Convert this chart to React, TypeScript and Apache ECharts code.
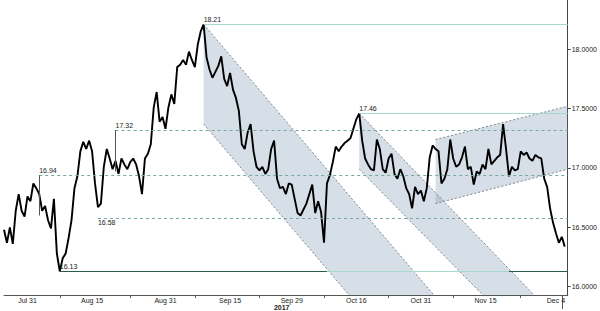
import React, { useEffect, useRef } from 'react';
import * as echarts from 'echarts';

// ---- data ----
const MONTHS = ['Jan','Feb','Mar','Apr','May','Jun','Jul','Aug','Sep','Oct','Nov','Dec'];
const SLOT_COUNT = 193; // two half-day slots per weekday, Jul 25 2017 onwards

function buildSlots(): string[] {
  const out: string[] = [];
  const d = new Date(Date.UTC(2017, 6, 25));
  while (out.length < SLOT_COUNT) {
    const wd = d.getUTCDay();
    if (wd !== 0 && wd !== 6) {
      const s = `${MONTHS[d.getUTCMonth()]} ${d.getUTCDate()}`;
      out.push(s + ' AM');
      if (out.length < SLOT_COUNT) out.push(s + ' PM');
    }
    d.setUTCDate(d.getUTCDate() + 1);
  }
  return out;
}
const categories = buildSlots();

const xLabels = ['Jul 31', 'Aug 15', 'Aug 31', 'Sep 15', 'Sep 29', 'Oct 16', 'Oct 31', 'Nov 15', 'Dec 4'];
const xLabelSlots = [8, 30, 55, 77, 98, 120, 142, 164, 188];
const xTickSlots = [19, 43, 65, 87, 109, 131, 153, 176];
const yearLabel = '2017';
const yTicks = [16, 16.5, 17, 17.5, 18];

const price = [
  16.48, 16.37, 16.50, 16.36, 16.64, 16.78, 16.64, 16.59, 16.76, 16.72,
  16.87, 16.83, 16.78, 16.64, 16.68, 16.56, 16.49, 16.74, 16.28, 16.13,
  16.24, 16.28, 16.41, 16.56, 16.83, 16.93, 17.14, 17.22, 17.16, 17.23,
  17.14, 16.87, 16.67, 16.70, 17.01, 17.16, 17.08, 16.99, 17.06, 16.95,
  17.08, 17.03, 16.99, 17.05, 17.08, 17.03, 16.93, 16.78, 17.08, 17.12,
  17.20, 17.51, 17.64, 17.39, 17.43, 17.33, 17.51, 17.62, 17.54, 17.85,
  17.87, 17.91, 17.87, 17.98, 17.91, 17.85, 18.04, 18.15, 18.21, 17.93,
  17.83, 17.76, 17.81, 17.86, 17.94, 17.75, 17.69, 17.80, 17.66, 17.59,
  17.48, 17.20, 17.16, 17.30, 17.37, 17.14, 17.01, 16.98, 17.01, 16.95,
  16.99, 17.16, 17.23, 16.91, 16.83, 16.84, 16.78, 16.87, 16.86, 16.74,
  16.62, 16.60, 16.65, 16.70, 16.78, 16.86, 16.62, 16.72, 16.63, 16.37,
  16.87, 16.94, 17.05, 17.18, 17.14, 17.18, 17.21, 17.23, 17.25, 17.33,
  17.41, 17.46, 17.23, 17.08, 17.03, 16.99, 16.98, 17.24, 17.16, 16.99,
  16.96, 17.08, 17.12, 16.95, 16.91, 16.99, 16.93, 16.83, 16.78, 16.66,
  16.84, 16.78, 16.81, 16.72, 16.83, 17.09, 17.19, 17.16, 17.14, 16.87,
  16.91, 16.99, 17.24, 17.08, 17.01, 17.03, 17.09, 17.18, 16.99, 17.01,
  16.86, 16.97, 16.95, 17.03, 16.99, 17.16, 17.03, 17.06, 17.09, 17.11,
  17.37, 17.16, 16.93, 17.01, 16.98, 16.99, 17.14, 17.11, 17.13, 17.08,
  17.06, 17.11, 17.09, 17.08, 16.91, 16.84, 16.66, 16.54, 16.45, 16.37,
  16.42, 16.3375,
];
const lastPrice = 16.3375;

// horizontal levels: value, start slot, style kind, label side
const levelValues = [18.21, 17.46, 17.32, 16.94, 16.58, 16.13];
const levelStartSlots = [68, 121, 38, 12, 32, 19];
const levelKinds = ['light', 'light', 'dashed', 'dashed', 'dashed', 'dark'];
const levelLabelBelow = [false, false, false, false, true, false];
// leader lines from label down to price
const leaderSlots = [12, 38];
const leaderFrom = [16.94, 17.32];
const leaderTo = [16.60, 16.97];
// light segment drawn on the 16.13 support
const supportLightSlots = [110, 172];

// trend channels (slot start/end, upper & lower edge values at those slots)
const channelStart = [68, 121, 147];
const channelEnd = [150, 185, 192];
const channelUpper = [[18.21, 15.825], [17.46, 15.815], [17.24, 17.52]];
const channelLower = [[17.37, 14.985], [16.99, 15.377], [16.70, 16.99]];

const FONT = 'Liberation Sans, Arial, sans-serif';

export default function App() {
  const ref = useRef<HTMLDivElement>(null);
  useEffect(() => {
    document.body.style.margin = '0';
    if (!ref.current) return;
    const chart = echarts.init(ref.current, undefined, { renderer: 'svg' });
    const lastSlot = SLOT_COUNT - 1;
    const colors: Record<string, string> = { light: '#a8d8cd', dashed: '#76aa9e', dark: '#2c5a4b' };

    const levelLines: any[] = levelValues.map((v, i) => [
      {
        coord: [levelStartSlots[i], v],
        lineStyle: {
          color: colors[levelKinds[i]],
          type: levelKinds[i] === 'dashed' ? [3, 3] : 'solid',
          width: 1,
        },
        label: {
          show: true,
          position: levelLabelBelow[i] ? 'insideStartBottom' : 'insideStartTop',
          formatter: v.toFixed(2),
          color: '#222',
          fontSize: 7,
          fontFamily: FONT,
          distance: [0, 1],
        },
      },
      { coord: [lastSlot, v] },
    ]);
    const leaders: any[] = leaderSlots.map((s, i) => [
      { coord: [s, leaderFrom[i]], lineStyle: { color: '#555', type: 'solid', width: 1 }, label: { show: false } },
      { coord: [s, leaderTo[i]] },
    ]);
    const supportLight: any[] = [[
      { coord: [supportLightSlots[0], 16.13], lineStyle: { color: '#a8d8cd', type: 'solid', width: 1 }, label: { show: false } },
      { coord: [supportLightSlots[1], 16.13] },
    ]];
    const lastLabel: any = {
      yAxis: lastPrice,
      lineStyle: { width: 0, opacity: 0 },
      label: {
        show: true,
        position: 'end',
        formatter: String(lastPrice),
        color: '#fff',
        backgroundColor: '#000',
        padding: [2, 1, 1, 1],
        fontSize: 7,
        fontFamily: FONT,
        distance: 0,
      },
    };

    chart.setOption({
      animation: false,
      backgroundColor: '#fff',
      grid: { left: 4, right: 24, top: 0, bottom: 14 },
      xAxis: [
        {
          type: 'category',
          data: categories,
          boundaryGap: false,
          axisLine: { show: true, lineStyle: { color: '#555', width: 1 } },
          axisTick: {
            show: true,
            interval: (i: number) => xTickSlots.includes(i),
            length: 3,
            lineStyle: { color: '#555' },
          },
          axisLabel: {
            show: true,
            interval: (i: number) => xLabelSlots.includes(i),
            formatter: (_v: string, i: number) => {
              const k = xLabelSlots.indexOf(i);
              if (k < 0) return '';
              return xLabels[k] === 'Sep 29' ? `{a|${xLabels[k]}}\n{b|${yearLabel}}` : `{a|${xLabels[k]}}`;
            },
            margin: 2,
            color: '#222',
            fontSize: 7,
            fontFamily: FONT,
            rich: {
              a: { fontSize: 7, color: '#222', fontFamily: FONT, lineHeight: 7 },
              b: { fontSize: 7, color: '#222', fontFamily: FONT, fontWeight: 'bold', lineHeight: 7, padding: [0, 20, 0, 0] },
            },
          },
          splitLine: { show: false },
        },
        {
          type: 'category',
          data: categories,
          boundaryGap: false,
          position: 'bottom',
          axisLine: { show: false },
          axisLabel: { show: false },
          axisTick: {
            show: true,
            interval: (i: number) => i === 190,
            length: 14,
            lineStyle: { color: '#555' },
          },
          splitLine: { show: false },
        },
      ],
      yAxis: {
        type: 'value',
        position: 'right',
        min: 15.93,
        max: 18.415,
        scale: true,
        axisLine: { show: true, lineStyle: { color: '#444', width: 1 } },
        axisTick: { show: true, length: 3, customValues: yTicks, lineStyle: { color: '#444' } },
        axisLabel: {
          show: true,
          customValues: yTicks,
          formatter: (v: number) => v.toFixed(4),
          margin: 4,
          color: '#222',
          fontSize: 7,
          fontFamily: FONT,
        },
        splitLine: { show: false },
      },
      series: [
        {
          type: 'custom',
          clip: true,
          z: 1,
          silent: true,
          data: channelStart.map((s, i) => [s, channelUpper[i][0]]),
          renderItem: (params: any, api: any) => {
            const i = params.dataIndex;
            const a = api.coord([channelStart[i], channelUpper[i][0]]);
            const b = api.coord([channelEnd[i], channelUpper[i][1]]);
            const c = api.coord([channelEnd[i], channelLower[i][1]]);
            const d = api.coord([channelStart[i], channelLower[i][0]]);
            const dash = { stroke: '#80868c', lineWidth: 1, lineDash: [2, 2], fill: null };
            return {
              type: 'group',
              children: [
                { type: 'polygon', shape: { points: [a, b, c, d] }, style: { fill: 'rgba(120,150,175,0.3)' } },
                { type: 'line', shape: { x1: a[0], y1: a[1], x2: b[0], y2: b[1] }, style: dash },
                { type: 'line', shape: { x1: d[0], y1: d[1], x2: c[0], y2: c[1] }, style: dash },
              ],
            };
          },
        },
        {
          type: 'line',
          data: price,
          z: 3,
          symbol: 'none',
          lineStyle: { color: '#000', width: 1.9 },
          markLine: {
            silent: true,
            symbol: ['none', 'none'],
            animation: false,
            data: [...levelLines, ...supportLight, ...leaders, lastLabel],
          },
        },
      ],
    });
    return () => chart.dispose();
  }, []);
  return <div ref={ref} style={{ width: 600, height: 311 }} />;
}
